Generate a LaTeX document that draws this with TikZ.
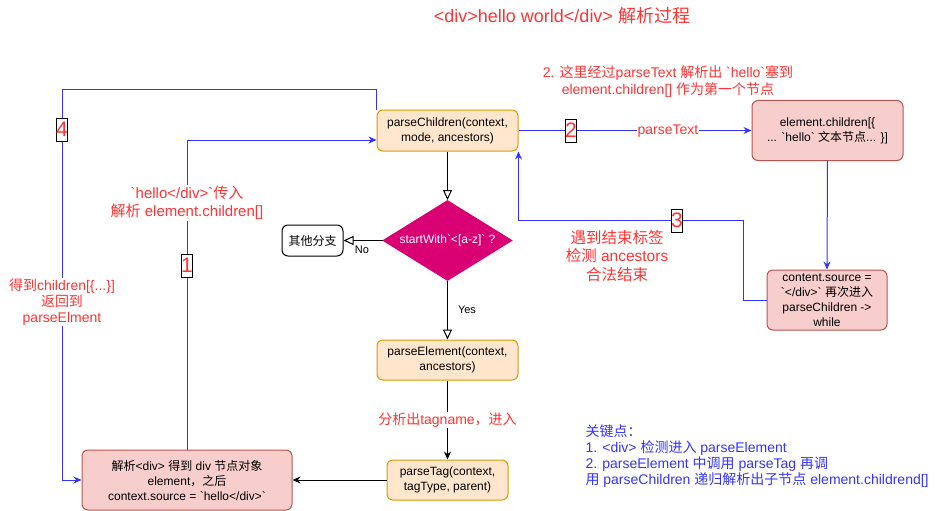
\documentclass[tikz,border=0pt]{standalone}
\usepackage{fontspec}
\setmainfont{Liberation Sans}
\newfontfamily\cjk{Noto Sans CJK SC}
\newcommand{\zh}[1]{{\cjk #1}}
\newcommand{\bq}{\textasciigrave}
\usetikzlibrary{shapes.geometric,arrows.meta}
\definecolor{procfill}{HTML}{FFE6CC}
\definecolor{procline}{HTML}{D79B00}
\definecolor{endfill}{HTML}{F8CECC}
\definecolor{endline}{HTML}{B85450}
\definecolor{decfill}{HTML}{D80073}
\definecolor{redtxt}{HTML}{FF3333}
\definecolor{bluel}{HTML}{3333FF}

\begin{document}
\begin{tikzpicture}[x=1pt,y=-1pt,line width=1pt]
\tikzstyle{proc}=[rectangle, rounded corners=6pt, draw=procline, fill=procfill, align=center, inner sep=0pt, font=\fontsize{12}{15}\selectfont]
\tikzstyle{endbox}=[proc, draw=endline, fill=endfill]
\tikzstyle{plainbox}=[proc, draw=black, fill=white]
\tikzstyle{decide}=[diamond, draw=decfill, fill=decfill, text=white, inner sep=0pt, font=\fontsize{12}{15}\selectfont]
\tikzstyle{numtag}=[draw=black, line width=0.8pt, fill=white, text=redtxt, inner sep=0pt, minimum width=11pt, minimum height=23pt, font=\fontsize{21}{21}\selectfont]
\tikzstyle{redlabel}=[text=redtxt, fill=white, align=center, inner sep=1pt, font=\fontsize{15.5}{18.5}\selectfont]
\tikzstyle{blueflow}=[draw=bluel, -{Stealth[length=8pt,width=7pt]}]
\tikzstyle{blackflow}=[draw=black, -{Stealth[length=8pt,width=7pt]}]
\tikzstyle{openflow}=[draw=black, -{Triangle[open,fill=white,length=10pt,width=9pt]}]
\useasboundingbox (0,0) rectangle (943,511);

% title
\node[text=redtxt, font=\fontsize{18}{20}\selectfont] (title) at (562,16) {<div>hello world</div> \zh{解析过程}};

% boxes
\node[proc, minimum width=141pt, minimum height=41pt] (pc) at (447.5,130.5) {parseChildren(context,\\ mode, ancestors)};
\node[endbox, minimum width=151pt, minimum height=60pt] (ec) at (827.5,130.5) {element.children[\{\\ ... \bq hello\bq\ \zh{文本节点}... \}]};
\node[decide, minimum width=129pt, minimum height=80pt] (chk) at (447.5,240.5) {\makebox[0pt]{startWith\bq<[a-z]\bq\ ?}};
\node[plainbox, minimum width=61pt, minimum height=31pt] (other) at (312.5,240.5) {\zh{其他分支}};
\node[proc, minimum width=141pt, minimum height=40pt] (pe) at (447.5,360) {parseElement(context,\\ ancestors)};
\node[proc, minimum width=121pt, minimum height=40pt] (pt) at (447.5,480) {parseTag(context,\\ tagType, parent)};
\node[endbox, minimum width=210pt, minimum height=60pt] (jx) at (187,480) {\zh{解析}<div> \zh{得到} div \zh{节点对象}\\ element\zh{，之后}\\ context.source = \bq hello</div>\bq};
\node[endbox, minimum width=120pt, minimum height=60pt] (cs) at (827,300) {content.source =\\ \bq</div>\bq\ \zh{再次进入}\\ parseChildren ->\\ while};

% main flow
\draw[openflow] (pc.south) -- (chk.north);
\draw[openflow] (chk.west) -- (other.east);
\draw[openflow] (chk.south) -- (pe.north);
\node[font=\fontsize{11}{13}\selectfont] (no) at (362,250) {No};
\node[font=\fontsize{11}{13}\selectfont] (yes) at (467,310) {Yes};
\draw[blackflow] (pe.south) -- node[redlabel, font=\fontsize{14}{17}\selectfont] (tagnote) {\zh{分析出}tagname\zh{，进入}} (pt.north);
\draw[blackflow] (pt.west) -- (jx.east);

% recursion
\coordinate (bend4) at (62,90);
\coordinate (bend3) at (743,220);
\draw[blueflow] (pc.north west) |- (bend4) |- (jx.west);
\draw[blueflow] (jx.north) |- ([yshift=-9.5pt]pc.west);
\draw[blueflow] (pc.east) -- (ec.west);
\draw[blueflow] (ec.south) -- (cs.north);
\draw[blueflow] (cs.west) -| (bend3) -| (pc.south east);

% step tags and notes
\node[numtag] (n1) at (187,265.5) {1};
\node[numtag] (n2) at (571,130.5) {2};
\node[numtag] (n3) at (677,220.5) {3};
\node[numtag] (n4) at (62,129.5) {4};
\node[redlabel, font=\fontsize{15}{18}\selectfont] (t1) at (187,203) {\bq hello</div>\bq\zh{传入}\\ \zh{解析} element.children[]};
\node[redlabel, font=\fontsize{14}{16}\selectfont] (t4) at (62,302) {\zh{得到}children[\{...\}]\\ \zh{返回到}\\ parseElment};
\node[redlabel, font=\fontsize{14}{17}\selectfont] (ptext) at (668,131) {parseText};
\node[redlabel] (t3) at (617,256) {\zh{遇到结束标签}\\ \zh{检测} ancestors\\ \zh{合法结束}};
\node[redlabel, font=\fontsize{14}{17}\selectfont] (t2) at (668,82) {2. \zh{这里经过}parseText \zh{解析出} \bq hello\bq\zh{塞到}\\ element.children[] \zh{作为第一个节点}};
\node[text=bluel, align=left, anchor=west, inner sep=0pt, font=\fontsize{14}{16}\selectfont] (keys) at (585,456) {\zh{关键点：}\\ 1. <div> \zh{检测进入} parseElement\\ 2. parseElement \zh{中调用} parseTag \zh{再调}\\ \zh{用} parseChildren \zh{递归解析出子节点} element.childrend[]};
\end{tikzpicture}
\end{document}
